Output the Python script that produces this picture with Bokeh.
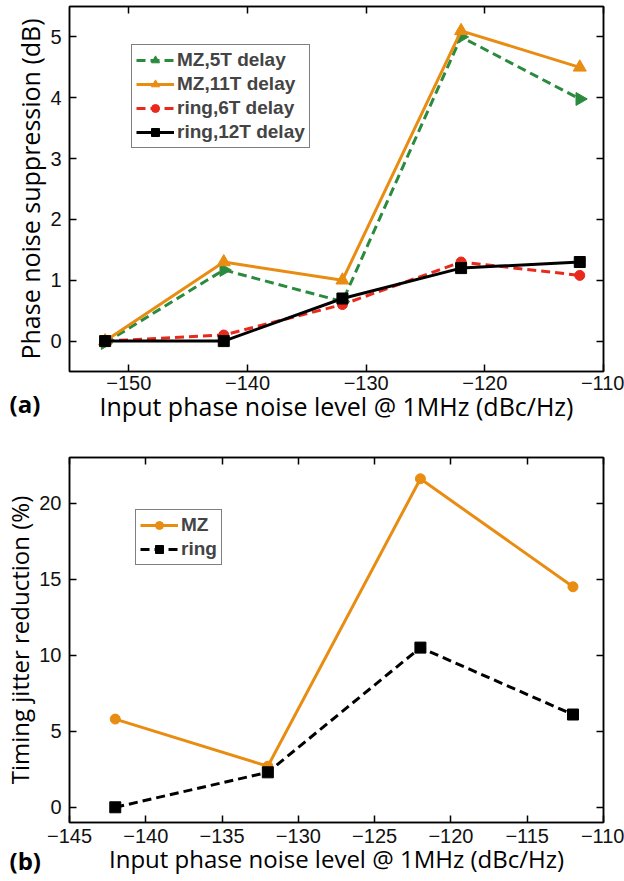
import math
from bokeh.plotting import figure
from bokeh.models import LinearAxis, FixedTicker, Legend, LegendItem, Title, Range1d
from bokeh.layouts import column
from bokeh.embed import file_html
from bokeh.resources import INLINE

# ---- data panel (a)
x_a = [-152, -142, -132, -122, -112]
mz5 = [-0.03, 1.17, 0.65, 5.0, 3.98]
mz11 = [0.0, 1.3, 1.0, 5.1, 4.5]
ring6 = [0.0, 0.1, 0.6, 1.3, 1.08]
ring12 = [0.0, 0.0, 0.7, 1.2, 1.3]
xticks_a = [-150, -140, -130, -120, -110]
yticks_a = [0, 1, 2, 3, 4, 5]

# ---- data panel (b)
x_b = [-142, -132, -122, -112]
mz = [5.8, 2.7, 21.6, 14.5]
ring = [0.0, 2.3, 10.5, 6.1]
xticks_b = [-145, -140, -135, -130, -125, -120, -115, -110]
yticks_b = [0, 5, 10, 15, 20]

GREEN = "#2a8a3e"
ORANGE = "#e88c12"
RED = "#e8291c"
BLACK = "#000000"
TICK_FONT = "Liberation Sans"
LABEL_FONT = "Open Sans"


def style(p, xticks, yticks, lab_size, x_std, y_std, xl_std, yl_std):
    for ax in p.xaxis + p.yaxis:
        ax.ticker = FixedTicker(ticks=xticks if ax in p.xaxis else yticks)
        ax.major_tick_in = 7
        ax.major_tick_out = 0
        ax.minor_tick_line_color = None
        ax.axis_line_width = 1.5
        ax.major_tick_line_width = 1.5
        ax.major_label_text_font = TICK_FONT
        ax.major_label_text_font_size = "20px"
        ax.major_label_text_color = "#111111"
        ax.axis_label_text_font = LABEL_FONT
        ax.axis_label_text_font_size = lab_size
        ax.axis_label_text_font_style = "normal"
        ax.axis_label_text_color = "#000000"
    p.xaxis.major_label_standoff = x_std
    p.yaxis.major_label_standoff = y_std
    p.xaxis.axis_label_standoff = xl_std
    p.yaxis.axis_label_standoff = yl_std
    for loc, tk in (("above", xticks), ("right", yticks)):
        ax = LinearAxis(ticker=FixedTicker(ticks=tk), major_tick_in=7, major_tick_out=0,
                        minor_tick_line_color=None, major_label_text_font_size="1px",
                        major_label_text_color=None, major_label_standoff=0,
                        axis_line_width=1.5, major_tick_line_width=1.5)
        p.add_layout(ax, loc)
    p.grid.visible = False
    p.outline_line_color = "black"
    p.outline_line_width = 1.5
    p.background_fill_color = "white"
    p.border_fill_color = "white"


def make_legend(items, loc, font_size):
    leg = Legend(items=items, location=loc)
    leg.label_text_font = TICK_FONT
    leg.label_text_font_style = "bold"
    leg.label_text_font_size = font_size
    leg.label_height = 20
    leg.glyph_height = 20
    leg.glyph_width = 38
    leg.spacing = 2
    leg.padding = 4
    leg.margin = 0
    leg.label_standoff = 3
    leg.border_line_color = "black"
    leg.border_line_width = 1.5
    return leg


def panel_tag(text, offset, standoff):
    return Title(text=text, align="left", vertical_align="top", offset=offset,
                 standoff=standoff, text_font=LABEL_FONT, text_font_style="bold",
                 text_font_size="24px", text_color="black")


# ---------------- panel (a)
p1 = figure(width=624, height=425,
            x_range=Range1d(-155, -110), y_range=Range1d(-0.5, 5.5),
            output_backend="svg", toolbar_location=None,
            min_border_left=65, min_border_right=21, min_border_top=6, min_border_bottom=53,
            x_axis_label="Input phase noise level @ 1MHz (dBc/Hz)",
            y_axis_label="Phase noise suppression (dB)")
style(p1, xticks_a, yticks_a, "25px", 4, 8, -4, 0)

r1l = p1.line(x_a, mz5, color=GREEN, line_width=3, line_dash="9 5")
r1m = p1.scatter(x_a, mz5, marker="triangle", angle=-math.pi / 2, size=13, color=GREEN)
r2l = p1.line(x_a, mz11, color=ORANGE, line_width=3)
r2m = p1.scatter(x_a, mz11, marker="triangle", size=13, color=ORANGE)
r3l = p1.line(x_a, ring6, color=RED, line_width=3, line_dash="9 5")
r3m = p1.scatter(x_a, ring6, marker="circle", size=10, color=RED)
r4l = p1.line(x_a, ring12, color=BLACK, line_width=3)
r4m = p1.scatter(x_a, ring12, marker="square", size=11, color=BLACK)

leg1 = make_legend([
    LegendItem(label="MZ,5T delay", renderers=[r1l, r1m]),
    LegendItem(label="MZ,11T delay", renderers=[r2l, r2m]),
    LegendItem(label="ring,6T delay", renderers=[r3l, r3m]),
    LegendItem(label="ring,12T delay", renderers=[r4l, r4m]),
], (62, 223), "19px")
p1.add_layout(leg1, "center")
p1.add_layout(panel_tag("(a)", -60, -78), "below")

# ---------------- panel (b)
p2 = figure(width=624, height=456,
            x_range=Range1d(-145, -110), y_range=Range1d(-1, 23),
            output_backend="svg", toolbar_location=None,
            min_border_left=69, min_border_right=18, min_border_top=32, min_border_bottom=59,
            x_axis_label="Input phase noise level @ 1MHz (dBc/Hz)",
            y_axis_label="Timing jitter reduction (%)")
style(p2, xticks_b, yticks_b, "24px", 6, 8, -4, 0)

s1l = p2.line(x_b, mz, color=ORANGE, line_width=3)
s1m = p2.scatter(x_b, mz, marker="circle", size=10, color=ORANGE)
s2l = p2.line(x_b, ring, color=BLACK, line_width=3, line_dash="9 5")
s2m = p2.scatter(x_b, ring, marker="square", size=11, color=BLACK)

leg2 = make_legend([
    LegendItem(label="MZ", renderers=[s1l, s1m]),
    LegendItem(label="ring", renderers=[s2l, s2m]),
], (66, 257), "19px")
p2.add_layout(leg2, "center")
p2.add_layout(panel_tag("(b)", -60, -68), "below")

layout = column(p1, p2, spacing=0)
open("out.html", "w").write(file_html(layout, INLINE))
